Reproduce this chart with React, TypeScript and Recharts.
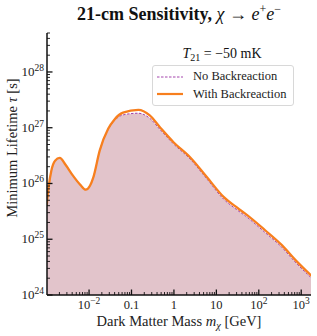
import React from 'react';
import { ComposedChart, Area, Line, XAxis, YAxis, Legend } from 'recharts';

// Dark matter mass [GeV]
const masses = [1.0e-3, 1.12e-3, 1.29e-3, 1.58e-3, 2.04e-3, 2.82e-3, 4.17e-3, 6.31e-3, 8.32e-3, 1.05e-2, 1.26e-2, 1.78e-2, 2.82e-2, 3.98e-2, 6.31e-2, 0.145, 0.269, 0.468, 0.977, 2.4, 6.03, 14.8, 31.6, 47.9, 141, 355, 724, 1820];
// Minimum lifetime [s], with backreaction
const tauWith = [3.98e25, 8.91e25, 1.7e26, 2.57e26, 2.88e26, 2.14e26, 1.38e26, 9.33e25, 7.76e25, 9.12e25, 1.29e26, 3.89e26, 9.55e26, 1.41e27, 1.86e27, 2.09e27, 1.66e27, 1.02e27, 5.5e26, 2.95e26, 1.29e26, 5.75e25, 3.63e25, 2.88e25, 1.45e25, 7.76e24, 4.27e24, 2.14e24];
// Minimum lifetime [s], no backreaction
const tauNo = [3.98e25, 8.91e25, 1.7e26, 2.57e26, 2.88e26, 2.14e26, 1.38e26, 9.33e25, 7.76e25, 9.12e25, 1.29e26, 3.89e26, 9.33e26, 1.35e27, 1.7e27, 1.82e27, 1.48e27, 9.33e26, 5.13e26, 2.75e26, 1.2e26, 5.25e25, 3.31e25, 2.63e25, 1.32e25, 7.08e24, 3.89e24, 1.95e24];

const xDomain = [1.02e-3, 1700];
const yDomain = [1e24, 5e28];
const xMajorLabels: Record<string, [string, string]> = {
  '0.01': ['10', '\u22122'],
  '0.1': ['0.1', ''],
  '1': ['1', ''],
  '10': ['10', ''],
  '100': ['10', '2'],
  '1000': ['10', '3'],
};

const data = masses.map((m, i) => ({ m, tWith: tauWith[i], tNo: tauNo[i] }));

function buildTicks(lo: number, hi: number): number[] {
  const out: number[] = [];
  for (let e = Math.floor(Math.log10(lo)); e <= Math.ceil(Math.log10(hi)); e++) {
    for (let k = 1; k <= 9; k++) {
      const v = k * Math.pow(10, e);
      if (v >= lo * 0.999 && v <= hi * 1.001) out.push(v);
    }
  }
  return out;
}
const xTicks = buildTicks(xDomain[0], xDomain[1]);
const yTicks = buildTicks(yDomain[0], yDomain[1]);

const isMajor = (v: number) => {
  const l = Math.log10(v);
  return Math.abs(l - Math.round(l)) < 1e-6;
};

const FONT = '"Liberation Serif", serif';
const MAJ = 5.5;
const MIN = 3;

const BottomTick = (p: any) => {
  const { x, y, payload } = p;
  const v = payload.value;
  const maj = isMajor(v);
  const key = String(Math.round(Math.log10(v)) >= 0 ? Math.round(v) : v);
  const lab = maj ? xMajorLabels[key] : undefined;
  return (
    <g>
      <line x1={x} y1={y} x2={x} y2={y - (maj ? MAJ : MIN)} stroke="#111" strokeWidth={maj ? 1.3 : 0.9} />
      {lab && (
        <text x={x} y={y + 13.5} textAnchor="middle" fontFamily={FONT} fontSize={12.5} fill="#222">
          {lab[0]}
          {lab[1] && <tspan dy={-5} fontSize={9.5}>{lab[1]}</tspan>}
        </text>
      )}
    </g>
  );
};

const TopTick = (p: any) => {
  const { x, y, payload } = p;
  const maj = isMajor(payload.value);
  return <line x1={x} y1={y} x2={x} y2={y + (maj ? MAJ : MIN)} stroke="#111" strokeWidth={maj ? 1.3 : 0.9} />;
};

const LeftTick = (p: any) => {
  const { x, y, payload } = p;
  const v = payload.value;
  const maj = isMajor(v);
  const e = Math.round(Math.log10(v));
  return (
    <g>
      <line x1={x} y1={y} x2={x + (maj ? MAJ : MIN)} y2={y} stroke="#111" strokeWidth={maj ? 1.3 : 0.9} />
      {maj && (
        <text x={x - 3} y={y + 4} textAnchor="end" fontFamily={FONT} fontSize={13} fill="#222">
          10<tspan dy={-5} fontSize={9.5}>{String(e)}</tspan>
        </text>
      )}
    </g>
  );
};

const RightTick = (p: any) => {
  const { x, y, payload } = p;
  const maj = isMajor(payload.value);
  return <line x1={x} y1={y} x2={x - (maj ? MAJ : MIN)} y2={y} stroke="#111" strokeWidth={maj ? 1.3 : 0.9} />;
};

const LegendBox = (props: any) => {
  const items = props.payload || [];
  return (
    <div
      style={{
        background: 'rgba(255,255,255,0.9)',
        border: '1px solid #d8d8d8',
        borderRadius: 3,
        padding: '2px 6px 2px 4px',
        fontFamily: FONT,
        fontSize: 12.5,
        color: '#222',
        width: 130,
      }}
    >
      {items.map((it: any) => (
        <div key={it.value} style={{ display: 'flex', alignItems: 'center', height: 17.5 }}>
          <svg width={26} height={6} style={{ marginRight: 10 }}>
            <line
              x1={0}
              y1={3}
              x2={26}
              y2={3}
              stroke={it.color}
              strokeWidth={it.value === 'No Backreaction' ? 0.9 : 2.2}
              strokeDasharray={it.value === 'No Backreaction' ? '2.5 1.5' : undefined}
            />
          </svg>
          <span>{it.value}</span>
        </div>
      ))}
    </div>
  );
};

export default function App() {
  return (
    <div style={{ position: 'absolute', left: 0, top: 0, width: 317, height: 336, background: '#fff' }}>
      <ComposedChart width={317} height={336} data={data} margin={{ top: 33, right: 6, bottom: 0, left: 0 }}>
        <XAxis
          xAxisId="b"
          dataKey="m"
          type="number"
          scale="log"
          domain={xDomain}
          allowDataOverflow
          ticks={xTicks}
          interval={0}
          tick={<BottomTick />}
          tickSize={0}
          tickMargin={0}
          tickLine={false}
          axisLine={{ stroke: '#111', strokeWidth: 1.5 }}
          height={41}
          orientation="bottom"
        />
        <XAxis
          xAxisId="t"
          dataKey="m"
          type="number"
          scale="log"
          domain={xDomain}
          allowDataOverflow
          ticks={xTicks}
          interval={0}
          tick={<TopTick />}
          tickSize={0}
          tickMargin={0}
          tickLine={false}
          axisLine={{ stroke: '#111', strokeWidth: 1.5 }}
          height={0}
          orientation="top"
        />
        <YAxis
          yAxisId="l"
          type="number"
          scale="log"
          domain={yDomain}
          allowDataOverflow
          ticks={yTicks}
          interval={0}
          tick={<LeftTick />}
          tickSize={0}
          tickMargin={0}
          tickLine={false}
          axisLine={{ stroke: '#111', strokeWidth: 1.5 }}
          width={47}
          orientation="left"
        />
        <YAxis
          yAxisId="r"
          type="number"
          scale="log"
          domain={yDomain}
          allowDataOverflow
          ticks={yTicks}
          interval={0}
          tick={<RightTick />}
          tickSize={0}
          tickMargin={0}
          tickLine={false}
          axisLine={{ stroke: '#111', strokeWidth: 1.5 }}
          width={0}
          orientation="right"
        />
        <Area
          xAxisId="b"
          yAxisId="l"
          type="monotone"
          dataKey="tNo"
          name="No Backreaction"
          stroke="#9a2fa3"
          strokeWidth={0.9}
          strokeDasharray="2.5 1.5"
          fill="#e2c4cb"
          fillOpacity={1}
          baseValue={1e24}
          isAnimationActive={false}
          dot={false}
          activeDot={false}
        />
        <Line
          xAxisId="b"
          yAxisId="l"
          type="monotone"
          dataKey="tWith"
          name="With Backreaction"
          stroke="#f77f1e"
          strokeWidth={2.3}
          dot={false}
          activeDot={false}
          isAnimationActive={false}
        />
        <Legend
          layout="vertical"
          align="center"
          verticalAlign="middle"
          content={<LegendBox />}
          wrapperStyle={{ position: 'absolute', left: 152, top: 65, width: 'auto' }}
        />
      </ComposedChart>
      <svg width={317} height={336} style={{ position: 'absolute', left: 0, top: 0, pointerEvents: 'none' }}>
        <text x={179} y={20} textAnchor="middle" fontFamily={FONT} fontSize={18} fill="#111">
          <tspan fontWeight="bold">21-cm Sensitivity, </tspan>
          <tspan fontStyle="italic">χ</tspan>
          <tspan> → </tspan>
          <tspan fontStyle="italic">e</tspan>
          <tspan dy={-7} fontSize={12}>+</tspan>
          <tspan dy={7} fontStyle="italic">e</tspan>
          <tspan dy={-7} fontSize={12}>−</tspan>
        </text>
        <text x={222} y={58} textAnchor="middle" fontFamily={FONT} fontSize={14} fill="#111">
          <tspan fontStyle="italic">T</tspan>
          <tspan dy={3} fontSize={10}>21</tspan>
          <tspan dy={-3}> = −50 mK</tspan>
        </text>
        <text
          x={0}
          y={0}
          transform="translate(17,148) rotate(-90)"
          textAnchor="middle"
          fontFamily={FONT}
          fontSize={14.5}
          fill="#222"
        >
          Minimum Lifetime <tspan fontStyle="italic">τ</tspan> [s]
        </text>
        <text x={179} y={326} textAnchor="middle" fontFamily={FONT} fontSize={14.5} fill="#222">
          Dark Matter Mass <tspan fontStyle="italic">m</tspan>
          <tspan dy={3} fontSize={10.5} fontStyle="italic">χ</tspan>
          <tspan dy={-3}> [GeV]</tspan>
        </text>
      </svg>
    </div>
  );
}
